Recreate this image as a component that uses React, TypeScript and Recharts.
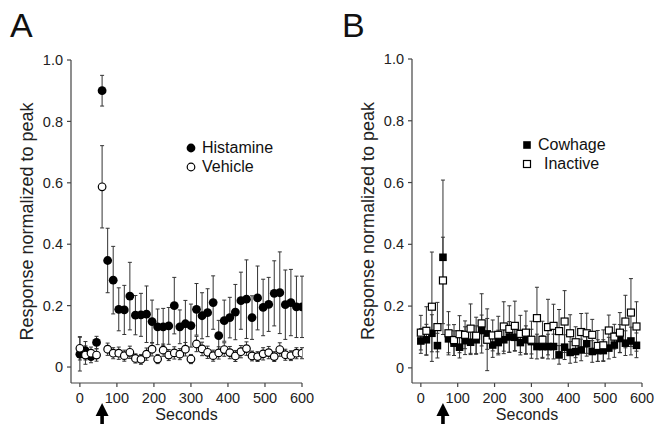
import { ScatterChart, Scatter, XAxis, YAxis, ErrorBar, Legend, ReferenceDot } from 'recharts';

// sampling times (s)
const secondsA = [
  0, 15, 30, 45, 60, 75, 90, 105, 120, 135, 150, 165, 180, 195, 210, 225, 240, 255, 270, 285, 300,
  315, 330, 345, 360, 375, 390, 405, 420, 435, 450, 465, 480, 495, 510, 525, 540, 555, 570, 585, 600,
];
const secondsB = [
  0, 15, 30, 45, 60, 75, 90, 105, 120, 135, 150, 165, 180, 195, 210, 225, 240, 255, 270, 285,
  300, 315, 330, 345, 360, 375, 390, 405, 420, 435, 450, 465, 480, 495, 510, 525, 540, 555, 570, 585,
];

// panel A
const histamine = [
  0.042, 0.053, 0.034, 0.08, 0.9, 0.347, 0.283, 0.188, 0.186, 0.231, 0.169, 0.17, 0.172, 0.148, 0.131,
  0.131, 0.134, 0.2, 0.131, 0.141, 0.135, 0.188, 0.167, 0.177, 0.21, 0.102, 0.151, 0.161, 0.179, 0.216,
  0.221, 0.161, 0.225, 0.194, 0.204, 0.24, 0.242, 0.203, 0.21, 0.196, 0.196,
];
const histamineSem = [
  0.055, 0.03, 0.02, 0.02, 0.05, 0.105, 0.11, 0.07, 0.08, 0.11, 0.064, 0.07, 0.092, 0.07, 0.058,
  0.06, 0.06, 0.092, 0.055, 0.076, 0.07, 0.084, 0.075, 0.078, 0.087, 0.05, 0.067, 0.066, 0.09, 0.093,
  0.128, 0.071, 0.104, 0.092, 0.088, 0.106, 0.133, 0.113, 0.108, 0.1, 0.1,
];
const vehicle = [
  0.061, 0.039, 0.045, 0.039, 0.587, 0.058, 0.045, 0.045, 0.037, 0.048, 0.028, 0.025, 0.042, 0.058, 0.026,
  0.055, 0.039, 0.046, 0.042, 0.058, 0.026, 0.075, 0.059, 0.048, 0.037, 0.046, 0.057, 0.047, 0.036, 0.05,
  0.06, 0.036, 0.034, 0.043, 0.047, 0.034, 0.057, 0.04, 0.037, 0.045, 0.045,
];
const vehicleSem = [
  0.038, 0.03, 0.02, 0.02, 0.134, 0.02, 0.018, 0.02, 0.018, 0.02, 0.015, 0.016, 0.02, 0.022, 0.015,
  0.02, 0.018, 0.02, 0.018, 0.022, 0.015, 0.025, 0.022, 0.02, 0.018, 0.02, 0.022, 0.02, 0.018, 0.02,
  0.022, 0.016, 0.016, 0.02, 0.02, 0.016, 0.022, 0.018, 0.016, 0.018, 0.018,
];

// panel B
const cowhage = [
  0.087, 0.091, 0.112, 0.072, 0.358, 0.094, 0.08, 0.067, 0.088, 0.083, 0.091, 0.121, 0.11, 0.074, 0.082,
  0.091, 0.1, 0.099, 0.082, 0.091, 0.085, 0.069, 0.069, 0.069, 0.069, 0.042, 0.067, 0.05, 0.053, 0.058,
  0.078, 0.053, 0.056, 0.056, 0.064, 0.074, 0.095, 0.08, 0.087, 0.073,
];
const cowhageSem = [
  0.04, 0.05, 0.06, 0.04, 0.25, 0.045, 0.04, 0.035, 0.045, 0.04, 0.045, 0.05, 0.05, 0.04, 0.04,
  0.045, 0.05, 0.045, 0.04, 0.045, 0.04, 0.04, 0.035, 0.04, 0.04, 0.03, 0.04, 0.035, 0.035, 0.035,
  0.04, 0.035, 0.035, 0.035, 0.035, 0.04, 0.045, 0.04, 0.045, 0.04,
];
const inactive = [
  0.114, 0.12, 0.198, 0.132, 0.283, 0.112, 0.09, 0.109, 0.107, 0.127, 0.104, 0.144, 0.091, 0.105, 0.107,
  0.134, 0.126, 0.136, 0.11, 0.114, 0.091, 0.161, 0.091, 0.132, 0.136, 0.119, 0.15, 0.112, 0.083, 0.116,
  0.112, 0.107, 0.071, 0.073, 0.121, 0.101, 0.114, 0.15, 0.179, 0.134,
];
const inactiveSem = [
  0.056, 0.078, 0.177, 0.08, 0.14, 0.07, 0.05, 0.06, 0.045, 0.08, 0.06, 0.096, 0.1, 0.05, 0.06,
  0.08, 0.075, 0.08, 0.06, 0.07, 0.06, 0.1, 0.06, 0.09, 0.07, 0.07, 0.1, 0.06, 0.05, 0.06,
  0.065, 0.05, 0.05, 0.05, 0.05, 0.04, 0.065, 0.085, 0.11, 0.08,
];

const xTicks = [0, 100, 200, 300, 400, 500, 600];
const yTicks = [0, 0.2, 0.4, 0.6, 0.8, 1];
const stimulusAt = 60;

const FONT = '"Liberation Sans", Arial, Helvetica, sans-serif';
const AXIS = '#444';

const toPoints = (times: number[], values: number[], sem: number[]) =>
  times.map((t, i) => ({ t, v: values[i], sem: sem[i] }));

const FilledCircle = (p: any) => <circle cx={p.cx} cy={p.cy} r={4.4} fill="#000" />;
const OpenCircle = (p: any) => (
  <circle cx={p.cx} cy={p.cy} r={3.8} fill="#fff" stroke="#000" strokeWidth={1.2} />
);
const FilledSquare = (p: any) => (
  <rect x={p.cx - 3.8} y={p.cy - 3.8} width={7.6} height={7.6} fill="#000" />
);
const OpenSquare = (p: any) => (
  <rect x={p.cx - 3.5} y={p.cy - 3.5} width={7} height={7} fill="#fff" stroke="#000" strokeWidth={1.2} />
);

// stimulus marker drawn under the time axis
const Arrow = (p: any) => {
  const { cx, cy } = p;
  return (
    <g>
      <polygon points={`${cx},${cy + 20} ${cx - 6.5},${cy + 33} ${cx + 6.5},${cy + 33}`} fill="#000" />
      <rect x={cx - 1.8} y={cy + 32} width={3.6} height={12} fill="#000" />
    </g>
  );
};

const icons: Record<string, (p: any) => JSX.Element> = {
  circleFilled: FilledCircle,
  circleOpen: OpenCircle,
  squareFilled: FilledSquare,
  squareOpen: OpenSquare,
};

interface Series {
  name: string;
  data: { t: number; v: number; sem: number }[];
  shape: string;
  indent?: number;
}

interface PanelProps {
  width: number;
  top: number;
  right: number;
  axisWidth: number;
  yMin: number;
  labelOffset: number;
  legendLeft: number;
  legendTop: number;
  series: Series[];
}

function Panel({ width, top, right, axisWidth, yMin, labelOffset, legendLeft, legendTop, series }: PanelProps) {
  const renderLegend = () => (
    <div style={{ fontFamily: FONT, fontSize: 16, color: '#111' }}>
      {series.map((s) => {
        const Icon = icons[s.shape];
        return (
          <div key={s.name} style={{ display: 'flex', alignItems: 'center', height: 18.5 }}>
            <svg width={12} height={12}>
              <Icon cx={6} cy={6} />
            </svg>
            <span style={{ marginLeft: 5 + (s.indent || 0), lineHeight: '18px' }}>{s.name}</span>
          </div>
        );
      })}
    </div>
  );

  return (
    <ScatterChart width={width} height={424} margin={{ top, right, bottom: 0, left: 0 }}>
      <XAxis
        type="number"
        dataKey="t"
        domain={[-24, 600]}
        ticks={xTicks}
        allowDataOverflow
        height={41}
        stroke={AXIS}
        strokeWidth={1.2}
        tickSize={4}
        tickMargin={6}
        tick={{ fontSize: 14.5, fill: '#222', fontFamily: FONT }}
        label={{ value: 'Seconds', position: 'insideBottom', offset: 4, fontSize: 16, fill: '#222', fontFamily: FONT }}
      />
      <YAxis
        type="number"
        dataKey="v"
        domain={[yMin, 1]}
        ticks={yTicks}
        allowDataOverflow
        width={axisWidth}
        stroke={AXIS}
        strokeWidth={1.2}
        tickSize={4}
        tickMargin={4}
        tickFormatter={(v: number) => (v === 0 ? '0' : v.toFixed(1))}
        tick={{ fontSize: 14.5, fill: '#222', fontFamily: FONT }}
        label={{
          value: 'Response normalized to peak',
          angle: -90,
          position: 'insideLeft',
          offset: labelOffset,
          fontSize: 18,
          fill: '#222',
          fontFamily: FONT,
          style: { textAnchor: 'middle' },
        }}
      />
      <Legend
        content={renderLegend}
        layout="vertical"
        align="center"
        verticalAlign="middle"
        wrapperStyle={{ top: legendTop, left: legendLeft, width: 'auto', height: 'auto' }}
      />
      {series.map((s) => (
        <Scatter key={s.name} name={s.name} data={s.data} shape={icons[s.shape]} isAnimationActive={false}>
          <ErrorBar dataKey="sem" direction="y" width={2} stroke="#333" strokeWidth={1} />
        </Scatter>
      ))}
      <ReferenceDot x={stimulusAt} y={yMin} ifOverflow="visible" shape={Arrow} />
    </ScatterChart>
  );
}

export default function App() {
  const seriesA: Series[] = [
    { name: 'Histamine', data: toPoints(secondsA, histamine, histamineSem), shape: 'circleFilled' },
    { name: 'Vehicle', data: toPoints(secondsA, vehicle, vehicleSem), shape: 'circleOpen' },
  ];
  const seriesB: Series[] = [
    { name: 'Cowhage', data: toPoints(secondsB, cowhage, cowhageSem), shape: 'squareFilled' },
    { name: 'Inactive', data: toPoints(secondsB, inactive, inactiveSem), shape: 'squareOpen', indent: 6 },
  ];

  return (
    <div style={{ position: 'absolute', left: 0, top: 0, width: 658, height: 424, background: '#fff' }}>
      <div style={{ position: 'absolute', left: 0, top: 0 }}>
        <Panel
          width={330}
          top={60}
          right={28}
          axisWidth={71}
          yMin={-0.052}
          labelOffset={27}
          legendLeft={185}
          legendTop={139}
          series={seriesA}
        />
      </div>
      <div style={{ position: 'absolute', left: 340, top: 0 }}>
        <Panel
          width={318}
          top={59}
          right={16}
          axisWidth={72}
          yMin={-0.049}
          labelOffset={28}
          legendLeft={181}
          legendTop={136}
          series={seriesB}
        />
      </div>
      <svg width={658} height={60} style={{ position: 'absolute', left: 0, top: 0, pointerEvents: 'none' }}>
        <text x={10} y={37} fontSize={34} fontFamily={FONT} fill="#111">A</text>
        <text x={342} y={37} fontSize={34} fontFamily={FONT} fill="#111">B</text>
      </svg>
    </div>
  );
}
